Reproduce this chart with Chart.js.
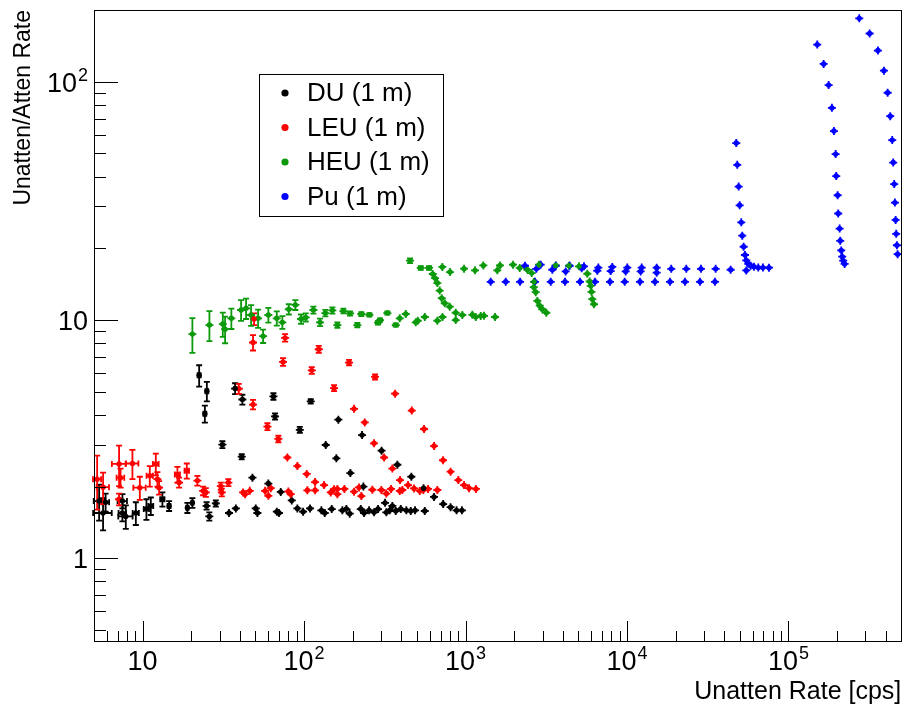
<!DOCTYPE html>
<html><head><meta charset="utf-8">
<script src="https://cdn.jsdelivr.net/npm/chart.js@4"></script>
<style>html,body{margin:0;padding:0;background:#fff}#wrap{width:904px;height:707px}</style>
</head><body><div id="wrap"><canvas id="c" width="904" height="707"></canvas></div>
<script>
// ---------- data (x = unattenuated rate [cps], y = ratio, ex/ey = errors) ----------
const seriesNames = ["DU (1 m)", "LEU (1 m)", "HEU (1 m)", "Pu (1 m)"];
const xMajorTicks = [10, 100, 1000, 10000, 100000];
const xTickLabels = [["10", ""], ["10", "2"], ["10", "3"], ["10", "4"], ["10", "5"]];
const yMajorTicks = [1, 10, 100];
const yTickLabels = [["1", ""], ["10", ""], ["10", "2"]];
const xTitle = "Unatten Rate [cps]";
const yTitle = "Unatten/Atten Rate";

const duPoints = [
  [5.38,1.74,0.4,0.3],[5.69,1.55,0.75,0.24],[5.9,1.72,0.3,0.15],[7.5,1.74,0.5,0.12],[7.5,1.55,0.4,0.12],
  [7.87,1.50,0.8,0.17],[9.08,1.55,0.4,0.17],[10.56,1.61,0.4,0.16],[11.24,1.66,0.4,0.14],[13.26,1.77,0.4,0.12],
  [14.59,1.66,0.3,0.08],[18.94,1.63,0.3,0.08],[20.34,1.71,0.3,0.08],[24.9,1.66,null,0.06],[25.9,1.50,null,0.06],
  [28.4,1.70,null,0.05],[34.3,1.55],[37.8,1.62],[50.2,1.62],[51.4,1.55],[67.8,1.57],[69.9,1.55],[90.9,1.62],
  [98.6,1.57],[108.9,1.62],[128,1.59],[134.3,1.55],[148.4,1.61],[172.7,1.59],[182.8,1.61],[191.8,1.54],
  [224.5,1.61],[235.3,1.55],[252.7,1.59],[271.3,1.56],[287.2,1.61],[323.3,1.56],[339.4,1.59],[369.8,1.58],
  [397.1,1.61],[430.1,1.59],[457.9,1.58],[486.8,1.59],[559.1,1.58],
  [22.4,5.86,0.5,0.6],[25.0,5.03,0.5,0.47],[24.3,4.04,0.5,0.33],[37.4,5.16,null,0.27],[41.5,4.64,null,0.22],
  [31.2,3.0,null,0.1],[41.1,2.67,null,0.07],[47.9,2.18],[60.1,2.06],[71.7,1.90],[83.9,1.75],
  [64.6,4.78,null,0.15],[66.1,3.94,null,0.12],[110,4.56,null,0.1],[94.1,3.46,null,0.1],[136.2,2.99],
  [158.5,2.63],[163.1,3.82],[228.7,3.29],[193.5,2.28],[302,2.83],[233,2.0],[378.3,2.47],[317.4,1.71],
  [461.8,2.2],[352.3,1.66],[550,1.97],[638,1.81],[727,1.69],[808,1.64],[880,1.59],[950,1.59]
];
const leuPoints = [
  [5.23,2.15,0.3,0.55],[5.69,1.99,0.5,0.3],[7.15,2.49,0.7,0.48],[8.65,2.50,0.77,0.35],[7.15,1.77,null,0.1],
  [7.3,2.18,0.4,0.2],[9.61,1.98,0.85,0.22],[11.08,2.22,0.5,0.22],[12.07,2.49,0.5,0.26],[12.35,2.15,null,0.15],
  [12.65,1.98,null,0.13],[16.43,2.25,0.6,0.17],[16.83,2.08,null,0.1],[18.78,2.33,0.6,0.17],[21.85,2.12,null,0.1],
  [23.7,1.92,null,0.08],[24.63,1.89,null,0.08],[30.5,2.01,null,0.07],[30.94,1.89,null,0.07],[33.98,2.08,null,0.07],
  [41.91,1.89],[43.12,1.86],[46.11,1.92],[57.35,1.92],[60.11,1.83],[62.21,1.97],[79.95,1.91],[82.7,1.86],
  [104.8,1.93],[117,1.93],[146.3,1.89],[160.8,1.955],[160.8,1.86],[177.7,1.955],[204,1.905],[219,1.985],
  [226.4,1.826],[264.8,1.94],[301.1,1.936],[323.3,1.87],[345.8,1.955],[391.5,1.918],[406.2,1.936],
  [479.9,1.965],[520.5,1.918],[548,1.936],[586,1.955],[669,1.936],
  [49.0,10.1,null,0.57],[48.3,8.05,null,0.6],[39.4,5.15,null,0.25],[48.3,4.42,null,0.2],[59.3,3.57,null,0.12],
  [69.3,3.17,null,0.1],[78.8,2.65],[90.9,2.44],[103.9,2.26],[117,2.09],[133,2.03],[153.4,1.95],
  [76.3,8.42,null,0.3],[74.1,6.67,null,0.25],[123.3,7.54,null,0.25],[111.6,6.15,null,0.2],[153.4,5.18,null,0.15],
  [189.9,6.63,null,0.18],[204,4.24],[237.6,3.72],[271.3,3.04],[313,2.65],[352.3,2.38],[393,2.13],[440.6,2.03],
  [275.2,5.77,null,0.14],[366.1,4.91],[464.5,4.17],[553.5,3.49],[638.3,2.96],[725.7,2.58],[808,2.31],
  [902.5,2.13],[979,2.03],[1051,1.97],[1160,1.955]
];
const heuPoints = [
  [20.34,8.73,null,1.45],[25.93,9.53,null,1.38],[31.38,9.62,null,1.12],[32.42,9.16,null,1.17],[35.46,10.17,null,1.0],
  [40.73,11.02,null,1.1],[43.74,11.2,null,1.1],[46.97,10.5,null,1.05],[51.9,10.17,null,0.9],[55.74,8.56,null,0.55],
  [60.11,10.5,null,0.75],[67.76,10.17,null,0.7],[73.38,9.78,null,0.6],[80.42,11.1,null,0.55],[88.33,11.57,null,0.55],
  [95.81,10.1,null,0.45],[102.4,10.26,null,0.4],[114.2,11.02,null,0.37],[125.6,9.78,null,0.35],[135.5,10.7,null,0.33],
  [149.7,10.98,null,0.33],[160.8,9.53,null,0.25],[175.2,10.91,null,0.25],[192.6,10.66,null,0.22],[213.8,9.53,null,0.2],
  [226.4,10.6,null,0.2],[253.8,10.52,null,0.18],[287.2,9.75,null,0.17],[295.5,10.0,null,0.17],[328,10.7,null,0.16],
  [369.8,9.53,null,0.15],[391.5,10.17],[426.4,10.6],[491.7,9.78],[505.8,9.93],[559.1,10.3],[669,9.93],[720,10.3],
  [869.7,10.73],[869.7,10.0],[955.5,10.5],[1102,10.52],[1157,10.3],[1242,10.4],[1302,10.42],[1523,10.3],
  [453.3,17.74,null,0.4],[528,16.55,null,0.3],[594.3,16.55,null,0.3],[626.5,15.6],[647.4,15.0],[669,14.3],
  [692.2,13.29],[712.3,12.35],[743.5,11.76],[798.5,11.38],[718.4,16.7],[801.8,15.9],[979,16.42],[1145,16.16],
  [1289,16.95],[1573,16.16],[1635,16.95],[1968,17.07],[2166,16.55],[2414,16.26],[2570,15.74],[2656,14.47],
  [2645,13.74],[2721,13.09],[2784,12.03],[2880,11.49],[2989,11.1],[3165,10.73],[2852,17.07],[3619,16.95],
  [4374,16.9],[5045,16.8],[5679,15.64],[5875,14.51],[5960,13.92],[6028,13.13],[6097,12.23],[6248,11.65]
];
const puPoints = [
  [1432,14.47],[1774,14.47],[2176,14.47],[2694,14.47],[3371,14.47],[4131,14.47],[5117,14.47],[6338,14.47],
  [7846,14.47],[9679,14.47],[12036,14.47],[14905,14.47],[18460,14.47],[22865,14.47],[28314,14.47],[35064,14.47],
  [2335,16.9],[2744,16.4],[2921,17.07],[3448,16.26],[3619,16.9],[4172,16.0],[4418,16.9],[5243,16.5],[5417,16.8],
  [6644,16.6],[6549,16.1],[8110,16.7],[7926,16.05],[10044,16.6],[9818,16.0],[12330,16.6],[12155,16.0],
  [15270,16.58],[15270,15.8],[18800,16.4],[23295,16.4],[28720,16.4],[35413,16.4],[43860,16.26],
  [47520,55.3],[48200,44.8],[49170,36.3],[49870,30.3],[51020,25.7],[51750,22.6],[52800,20.3],[53790,18.75],
  [54790,17.8],[56380,17.23],[58340,16.9],[61150,16.74],[65010,16.6],[69520,16.6],[75740,16.58],[54790,16.15],
  [150800,143.2],[165200,118.8],[177400,96.8],[185900,77.7],[191300,62.1],[196000,49.7],[197700,40.2],
  [201700,33.4],[203400,28.0],[207500,24.2],[209300,21.5],[212300,19.6],[215300,18.45],[218400,17.74],[222800,17.2],
  [274500,184.5],[318300,159.4],[358300,135.2],[390300,111.3],[411400,89.9],[427000,71.7],[439300,56.9],
  [445600,45.8],[452000,37.2],[456500,31.1],[461100,26.3],[465000,23.0],[469700,20.6],[474400,18.9]
];
const seriesColors = ["#000000", "#ff0000", "#0c9a0c", "#0000ff"];

// ---------- build ----------
const toObj = arr => arr.map(p => ({x: p[0], y: p[1], ex: p[2] || null, ey: p[3] || null}));
const allPoints = [duPoints, leuPoints, heuPoints, puPoints];
const FONT = "'Liberation Sans', Arial, Helvetica, sans-serif";

const errorBars = {
  id: 'errorBars',
  beforeDatasetsDraw(chart) {
    const {ctx, scales: {x, y}} = chart;
    ctx.save();
    ctx.lineWidth = 1.8;
    chart.data.datasets.forEach(ds => {
      ctx.strokeStyle = ds.borderColor;
      ds.data.forEach(p => {
        const px = x.getPixelForValue(p.x), py = y.getPixelForValue(p.y);
        ctx.beginPath();
        if (p.ey) {
          const t = y.getPixelForValue(p.y + p.ey), b = y.getPixelForValue(Math.max(p.y - p.ey, 1e-3));
          ctx.moveTo(px, t); ctx.lineTo(px, b);
          ctx.moveTo(px - 3, t); ctx.lineTo(px + 3, t);
          ctx.moveTo(px - 3, b); ctx.lineTo(px + 3, b);
        } else { ctx.moveTo(px, py - 4); ctx.lineTo(px, py + 4); }
        if (p.ex) {
          const l = x.getPixelForValue(Math.max(p.x - p.ex, 1e-3)), r = x.getPixelForValue(p.x + p.ex);
          ctx.moveTo(l, py); ctx.lineTo(r, py);
          ctx.moveTo(l, py - 3); ctx.lineTo(l, py + 3);
          ctx.moveTo(r, py - 3); ctx.lineTo(r, py + 3);
        } else { ctx.moveTo(px - 4, py); ctx.lineTo(px + 4, py); }
        ctx.stroke();
      });
    });
    ctx.restore();
  }
};

const LBL = 27, SUP = 18;
function powWidth(ctx, base, exp) {
  ctx.font = LBL + "px " + FONT; let w = ctx.measureText(base).width;
  if (exp) { ctx.font = SUP + "px " + FONT; w += ctx.measureText(exp).width + 1; }
  return w;
}
function drawPow(ctx, base, exp, left, baseline) {
  ctx.font = LBL + "px " + FONT; ctx.textAlign = 'left'; ctx.textBaseline = 'alphabetic';
  ctx.fillText(base, left, baseline);
  if (exp) {
    const w = ctx.measureText(base).width;
    ctx.font = SUP + "px " + FONT;
    ctx.fillText(exp, left + w + 1, baseline - 11);
  }
}

const frame = {
  id: 'frame',
  afterDraw(chart) {
    const {ctx, chartArea: a, scales: {x, y}} = chart;
    ctx.save();
    ctx.strokeStyle = '#000'; ctx.fillStyle = '#000'; ctx.lineWidth = 1;
    ctx.strokeRect(Math.round(a.left) + 0.5, Math.round(a.top) + 0.5, Math.round(a.right - a.left), Math.round(a.bottom - a.top));
    // x ticks
    ctx.beginPath();
    for (let e = 0; e <= 5; e++) {
      for (let k = 1; k <= 9; k++) {
        const v = k * Math.pow(10, e);
        if (v < x.min || v > x.max) continue;
        const px = Math.round(x.getPixelForValue(v)) + 0.5;
        const len = (k === 1) ? 20 : 10;
        ctx.moveTo(px, a.bottom); ctx.lineTo(px, a.bottom - len);
      }
    }
    // y ticks
    for (let e = -1; e <= 2; e++) {
      for (let k = 1; k <= 9; k++) {
        const v = k * Math.pow(10, e);
        if (v < y.min || v > y.max) continue;
        const py = Math.round(y.getPixelForValue(v)) + 0.5;
        const len = (k === 1) ? 24 : 12;
        ctx.moveTo(a.left, py); ctx.lineTo(a.left + len, py);
      }
    }
    ctx.stroke();
    // x labels
    xMajorTicks.forEach((v, i) => {
      const [b, e] = xTickLabels[i];
      const w = powWidth(ctx, b, e);
      drawPow(ctx, b, e, x.getPixelForValue(v) - w / 2, a.bottom + 29);
    });
    // y labels
    yMajorTicks.forEach((v, i) => {
      const [b, e] = yTickLabels[i];
      const w = powWidth(ctx, b, e);
      drawPow(ctx, b, e, 88 - w, y.getPixelForValue(v) + 10);
    });
    // titles
    ctx.font = "25px " + FONT;
    ctx.textAlign = 'right'; ctx.textBaseline = 'alphabetic';
    ctx.fillText(xTitle, a.right, 699);
    ctx.save();
    ctx.font = "23px " + FONT;
    ctx.translate(30, a.top);
    ctx.rotate(-Math.PI / 2);
    ctx.textAlign = 'right';
    ctx.fillText(yTitle, 0, 0);
    ctx.restore();
    // legend
    const L = 259, T = 74, R = 443, B = 216;
    ctx.fillStyle = '#fff'; ctx.fillRect(L, T, R - L, B - T);
    ctx.strokeStyle = '#000'; ctx.lineWidth = 1; ctx.strokeRect(L + 0.5, T + 0.5, R - L, B - T);
    ctx.font = "26px " + FONT; ctx.textAlign = 'left'; ctx.textBaseline = 'middle';
    seriesNames.forEach((n, i) => {
      const cy = 93 + i * 34.5;
      ctx.fillStyle = seriesColors[i];
      ctx.beginPath(); ctx.arc(285, cy, 3.6, 0, Math.PI * 2); ctx.fill();
      ctx.fillStyle = '#000';
      ctx.fillText(n, 307, cy + 1);
    });
    ctx.restore();
  }
};

new Chart(document.getElementById('c').getContext('2d'), {
  type: 'scatter',
  data: {
    datasets: allPoints.map((pts, i) => ({
      label: seriesNames[i],
      data: toObj(pts),
      backgroundColor: seriesColors[i],
      borderColor: seriesColors[i],
      pointRadius: 2.7,
      pointBorderWidth: 0,
      pointHoverRadius: 2.7
    }))
  },
  options: {
    responsive: false,
    animation: false,
    events: [],
    layout: {padding: {left: 94, top: 10, right: 2, bottom: 66}},
    plugins: {legend: {display: false}, tooltip: {enabled: false}},
    scales: {
      x: {type: 'logarithmic', min: 5, max: 5e5, display: false},
      y: {type: 'logarithmic', min: 0.45, max: 200, display: false}
    }
  },
  plugins: [errorBars, frame]
});
</script>
</body></html>
